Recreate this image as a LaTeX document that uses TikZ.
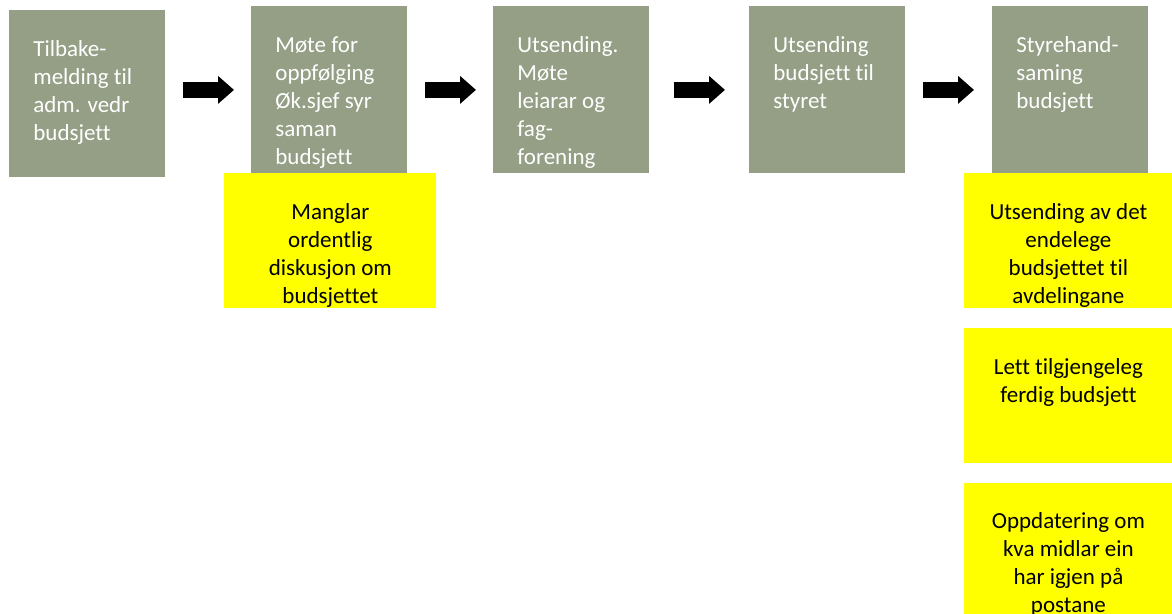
\documentclass[tikz,border=0pt]{standalone}
\usepackage{fontspec}
\setmainfont{Carlito}[Ligatures=NoCommon]
\usetikzlibrary{arrows.meta}

\definecolor{sage}{RGB}{148,159,133}
\definecolor{marker}{RGB}{255,255,0}

\tikzset{
  stepbox/.style={fill=sage, minimum width=78pt, minimum height=83.5pt, anchor=north west, inner sep=0pt},
  steptext/.style={text=white, anchor=north west, inner sep=0pt, text width=72pt, align=flush left, font=\fontsize{11.5}{14}\selectfont},
  notebox/.style={fill=marker, minimum width=104pt, minimum height=67.5pt, anchor=north west, inner sep=0pt},
  notetext/.style={anchor=north, inner sep=0pt, align=center, font=\fontsize{11.5}{14}\selectfont},
  flow/.style={line width=8pt, -{Triangle[width=13.5pt,length=8pt]}, shorten <=8.5pt, shorten >=8.5pt}
}

\begin{document}
\begin{tikzpicture}[x=0.5pt, y=-0.5pt]
  \clip (0,0) rectangle (1172,614);

  % steps
  \node[stepbox] (s1) at (9,10) {};
  \node[stepbox] (s2) at (251,6) {};
  \node[stepbox] (s3) at (493,6) {};
  \node[stepbox] (s4) at (749,6) {};
  \node[stepbox] (s5) at (992,6) {};

  \node[steptext] (t1) at ([xshift=12pt,yshift=-15pt]s1.north west) {Tilbake-\\melding til\\adm. vedr\\budsjett};
  \node[steptext] (t2) at ([xshift=12pt,yshift=-15pt]s2.north west) {Møte for\\oppfølging\\Øk.sjef syr\\saman\\budsjett};
  \node[steptext] (t3) at ([xshift=12pt,yshift=-15pt]s3.north west) {Utsending.\\Møte\\leiarar og\\fag-\\forening};
  \node[steptext] (t4) at ([xshift=12pt,yshift=-15pt]s4.north west) {Utsending\\budsjett til\\styret};
  \node[steptext] (t5) at ([xshift=12pt,yshift=-15pt]s5.north west) {Styrehand-\\saming\\budsjett};

  % notes
  \node[notebox, minimum width=106pt] (n1) at (224,173) {};
  \node[notebox] (n2) at (964,173) {};
  \node[notebox] (n3) at (964,328) {};
  \node[notebox] (n4) at (964,483) {};

  \node[notetext] at ([yshift=-15pt]n1.north) {Manglar\\ordentlig\\diskusjon om\\budsjettet};
  \node[notetext] at ([yshift=-15pt]n2.north) {Utsending av det\\endelege\\budsjettet til\\avdelingane};
  \node[notetext] at ([yshift=-15pt]n3.north) {Lett tilgjengeleg\\ferdig budsjett};
  \node[notetext] at ([yshift=-14.5pt]n4.north) {Oppdatering om\\kva midlar ein\\har igjen på\\postane};

  % arrows
  \draw[flow] (s1.east |- s2.west) -- (s2.west);
  \draw[flow] (s2.east) -- (s3.west);
  \draw[flow, shorten <=12pt, shorten >=12pt] (s3.east) -- (s4.west);
  \draw[flow, shorten >=9pt] (s4.east) -- (s5.west);
\end{tikzpicture}
\end{document}
